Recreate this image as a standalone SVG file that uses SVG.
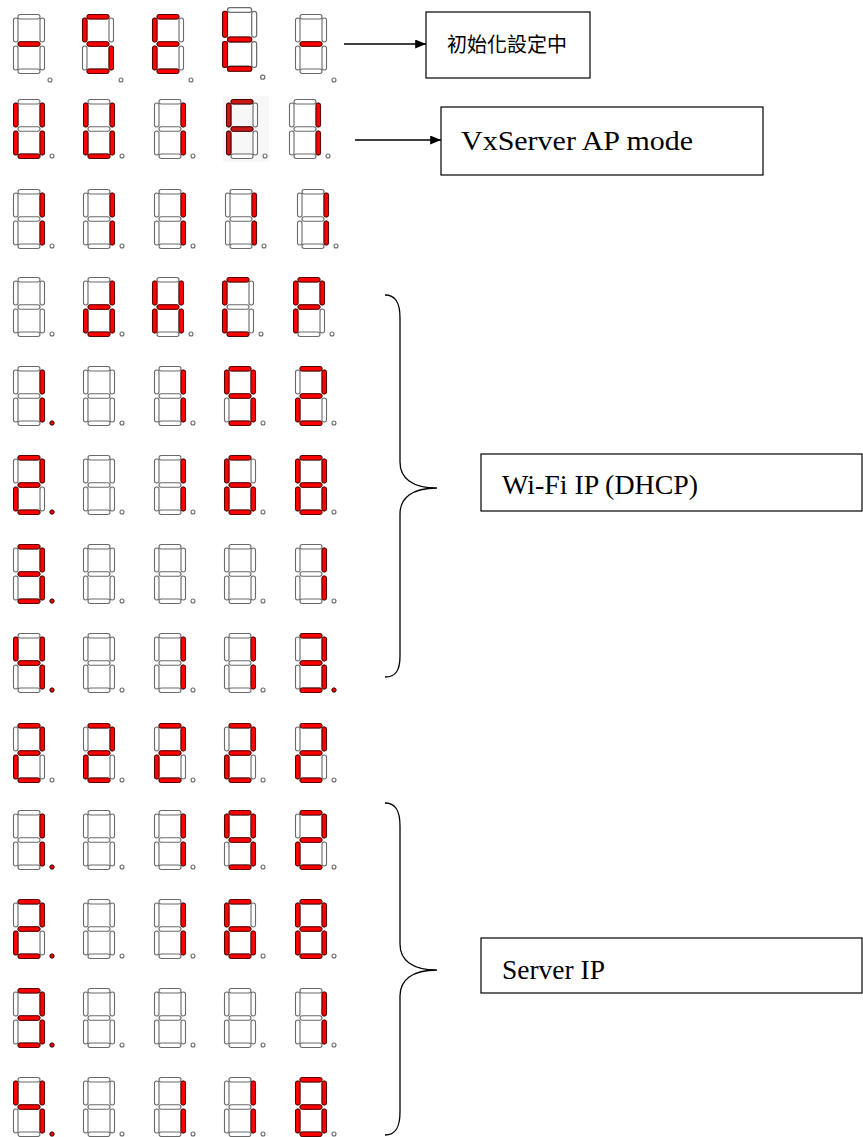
<svg xmlns="http://www.w3.org/2000/svg" width="863" height="1137" viewBox="0 0 863 1137">
<style>
.off{fill:#ffffff;stroke:#6a6a6a;stroke-width:1.1}
.on{fill:#ff0000;stroke:#5a0000;stroke-width:1}
.on2{fill:#c81818;stroke:#4a0000;stroke-width:1}
.box{fill:#ffffff;stroke:#000000;stroke-width:1.2}
.conn{fill:none;stroke:#000000;stroke-width:1.3}
.lat{font-family:"Liberation Serif","Times New Roman",serif;font-size:27px;fill:#000}
.cjk{font-family:"Noto Sans CJK TC","Noto Sans CJK JP",sans-serif;font-size:20px;fill:#000}
</style>
<defs>
<rect id="sa" x="5" y="0.5" width="22" height="4.5" rx="2.2"/>
<rect id="sg" x="5" y="27.8" width="22" height="4.5" rx="2.2"/>
<rect id="sd" x="5" y="55" width="22" height="4.5" rx="2.2"/>
<rect id="sf" x="0.5" y="4" width="4.5" height="24" rx="2.2"/>
<rect id="se" x="0.5" y="32" width="4.5" height="24" rx="2.2"/>
<rect id="sb" x="27" y="4" width="4.5" height="24" rx="2.2"/>
<rect id="sc" x="27" y="32" width="4.5" height="24" rx="2.2"/>
<circle id="dp" cx="39" cy="57" r="2"/>
<g id="base7" class="off"><use href="#sa"/><use href="#sb"/><use href="#sc"/><use href="#sd"/><use href="#se"/><use href="#sf"/><use href="#sg"/></g>
<g id="base"><use href="#base7"/><use href="#dp" class="off"/></g>
<marker id="arr" viewBox="0 0 12 10" refX="12" refY="5" markerWidth="12" markerHeight="9" markerUnits="userSpaceOnUse" orient="auto"><path d="M0,0 L12,5 L0,10 Z" fill="#000"/></marker>
</defs>

<g id="connectors">
<line class="conn" x1="344" y1="44" x2="426" y2="44" marker-end="url(#arr)"/>
<line class="conn" x1="355" y1="140" x2="441" y2="140" marker-end="url(#arr)"/>
<path class="conn" d="M385,295 C396,295 400,303 400,318 L400,462 C400,478 412,488 437,488 C412,488 400,498 400,514 L400,656 C400,670 396,677 385,677"/>
<path class="conn" d="M385,803 C396,803 400,811 400,826 L400,944 C400,960 412,970 437,970 C412,970 400,980 400,996 L400,1112 C400,1127 396,1135 385,1135"/>
</g>

<g id="label-init"><rect class="box" x="426" y="12" width="164" height="66"/><text class="cjk" x="447" y="52">初始化設定中</text></g>
<g id="label-ap"><rect class="box" x="441" y="107" width="322" height="68"/><text class="lat" x="461" y="150" textLength="232" lengthAdjust="spacingAndGlyphs">VxServer AP mode</text></g>
<g id="label-wifi"><rect class="box" x="481" y="454" width="381" height="57"/><text class="lat" x="502" y="494" textLength="196" lengthAdjust="spacingAndGlyphs">Wi-Fi IP (DHCP)</text></g>
<g id="label-server"><rect class="box" x="481" y="938" width="381" height="55"/><text class="lat" x="502" y="979" textLength="103" lengthAdjust="spacingAndGlyphs">Server IP</text></g>

<g id="row1">
<g transform="translate(13,14)"><use href="#base7"/><use href="#sg" class="on"/><circle class="off" cx="37" cy="66" r="2"/></g>
<g transform="translate(82,14)"><use href="#base7"/><use href="#sa" class="on"/><use href="#sf" class="on"/><use href="#sg" class="on"/><use href="#sc" class="on"/><use href="#sd" class="on"/><circle class="off" cx="39" cy="66" r="2"/></g>
<g transform="translate(152,14)"><use href="#base7"/><use href="#sa" class="on"/><use href="#sf" class="on"/><use href="#sg" class="on"/><use href="#se" class="on"/><use href="#sd" class="on"/><circle class="off" cx="39" cy="66" r="2"/></g>
<g transform="translate(222,7) scale(1.1,1.08)"><use href="#base7"/><use href="#sf" class="on"/><use href="#sg" class="on"/><use href="#se" class="on"/><use href="#sd" class="on"/><circle class="off" cx="37" cy="65" r="1.9"/></g>
<g transform="translate(295,14)"><use href="#base7"/><use href="#sg" class="on"/><circle class="off" cx="39" cy="66" r="2"/></g>
</g>

<g id="row2">
<g transform="translate(13,99)"><use href="#base"/><use href="#sf" class="on"/><use href="#sb" class="on"/><use href="#se" class="on"/><use href="#sc" class="on"/><use href="#sd" class="on"/></g>
<g transform="translate(83,99)"><use href="#base"/><use href="#sf" class="on"/><use href="#sb" class="on"/><use href="#se" class="on"/><use href="#sc" class="on"/><use href="#sd" class="on"/></g>
<g transform="translate(154,99)"><use href="#base"/><use href="#sb" class="on"/><use href="#sc" class="on"/></g>
<g transform="translate(226,99)"><rect x="-3" y="-3" width="46" height="66" fill="#f7f7f7"/><use href="#base"/><use href="#sa" class="on2"/><use href="#sf" class="on2"/><use href="#sg" class="on2"/><use href="#se" class="on2"/></g>
<g transform="translate(289,99)"><use href="#base"/><use href="#sb" class="on"/><use href="#sc" class="on"/></g>
</g>

<g id="row3">
<g transform="translate(13,189)"><use href="#base"/><use href="#sb" class="on"/><use href="#sc" class="on"/></g>
<g transform="translate(83,189)"><use href="#base"/><use href="#sb" class="on"/><use href="#sc" class="on"/></g>
<g transform="translate(154,189)"><use href="#base"/><use href="#sb" class="on"/><use href="#sc" class="on"/></g>
<g transform="translate(225,189)"><use href="#base"/><use href="#sb" class="on"/><use href="#sc" class="on"/></g>
<g transform="translate(297,189)"><use href="#base"/><use href="#sb" class="on"/><use href="#sc" class="on"/></g>
</g>

<g id="row4">
<g transform="translate(13,277)"><use href="#base"/></g>
<g transform="translate(83,277)"><use href="#base"/><use href="#sb" class="on"/><use href="#sg" class="on"/><use href="#se" class="on"/><use href="#sc" class="on"/><use href="#sd" class="on"/></g>
<g transform="translate(152,277)"><use href="#base"/><use href="#sf" class="on"/><use href="#sb" class="on"/><use href="#sg" class="on"/><use href="#se" class="on"/><use href="#sc" class="on"/></g>
<g transform="translate(222,277)"><use href="#base"/><use href="#sa" class="on"/><use href="#sf" class="on"/><use href="#se" class="on"/><use href="#sd" class="on"/></g>
<g transform="translate(293,277)"><use href="#base"/><use href="#sa" class="on"/><use href="#sf" class="on"/><use href="#sb" class="on"/><use href="#sg" class="on"/><use href="#se" class="on"/></g>
</g>

<g id="row5">
<g transform="translate(13,366)"><use href="#base"/><use href="#sb" class="on"/><use href="#sc" class="on"/><use href="#dp" class="on"/></g>
<g transform="translate(83,366)"><use href="#base"/></g>
<g transform="translate(154,366)"><use href="#base"/><use href="#sb" class="on"/><use href="#sc" class="on"/></g>
<g transform="translate(224,366)"><use href="#base"/><use href="#sa" class="on"/><use href="#sf" class="on"/><use href="#sb" class="on"/><use href="#sg" class="on"/><use href="#sc" class="on"/><use href="#sd" class="on"/></g>
<g transform="translate(295,366)"><use href="#base"/><use href="#sa" class="on"/><use href="#sb" class="on"/><use href="#sg" class="on"/><use href="#se" class="on"/><use href="#sd" class="on"/></g>
</g>

<g id="row6">
<g transform="translate(13,455)"><use href="#base"/><use href="#sa" class="on"/><use href="#sb" class="on"/><use href="#sg" class="on"/><use href="#se" class="on"/><use href="#sd" class="on"/><use href="#dp" class="on"/></g>
<g transform="translate(83,455)"><use href="#base"/></g>
<g transform="translate(154,455)"><use href="#base"/><use href="#sb" class="on"/><use href="#sc" class="on"/></g>
<g transform="translate(224,455)"><use href="#base"/><use href="#sa" class="on"/><use href="#sf" class="on"/><use href="#sg" class="on"/><use href="#se" class="on"/><use href="#sc" class="on"/><use href="#sd" class="on"/></g>
<g transform="translate(295,455)"><use href="#base"/><use href="#sa" class="on"/><use href="#sb" class="on"/><use href="#sc" class="on"/><use href="#sd" class="on"/><use href="#se" class="on"/><use href="#sf" class="on"/><use href="#sg" class="on"/></g>
</g>

<g id="row7">
<g transform="translate(13,544)"><use href="#base"/><use href="#sa" class="on"/><use href="#sb" class="on"/><use href="#sg" class="on"/><use href="#sc" class="on"/><use href="#sd" class="on"/><use href="#dp" class="on"/></g>
<g transform="translate(83,544)"><use href="#base"/></g>
<g transform="translate(154,544)"><use href="#base"/></g>
<g transform="translate(224,544)"><use href="#base"/></g>
<g transform="translate(295,544)"><use href="#base"/><use href="#sb" class="on"/><use href="#sc" class="on"/></g>
</g>

<g id="row8">
<g transform="translate(13,633)"><use href="#base"/><use href="#sf" class="on"/><use href="#sb" class="on"/><use href="#sg" class="on"/><use href="#sc" class="on"/><use href="#dp" class="on"/></g>
<g transform="translate(83,633)"><use href="#base"/></g>
<g transform="translate(154,633)"><use href="#base"/><use href="#sb" class="on"/><use href="#sc" class="on"/></g>
<g transform="translate(224,633)"><use href="#base"/><use href="#sb" class="on"/><use href="#sc" class="on"/></g>
<g transform="translate(295,633)"><use href="#base"/><use href="#sa" class="on"/><use href="#sb" class="on"/><use href="#sg" class="on"/><use href="#sc" class="on"/><use href="#sd" class="on"/><use href="#dp" class="on"/></g>
</g>

<g id="row9">
<g transform="translate(13,723)"><use href="#base"/><use href="#sa" class="on"/><use href="#sb" class="on"/><use href="#sg" class="on"/><use href="#se" class="on"/><use href="#sd" class="on"/></g>
<g transform="translate(83,723)"><use href="#base"/><use href="#sa" class="on"/><use href="#sb" class="on"/><use href="#sg" class="on"/><use href="#se" class="on"/><use href="#sd" class="on"/></g>
<g transform="translate(154,723)"><use href="#base"/><use href="#sa" class="on"/><use href="#sb" class="on"/><use href="#sg" class="on"/><use href="#se" class="on"/><use href="#sd" class="on"/></g>
<g transform="translate(224,723)"><use href="#base"/><use href="#sa" class="on"/><use href="#sb" class="on"/><use href="#sg" class="on"/><use href="#se" class="on"/><use href="#sd" class="on"/></g>
<g transform="translate(295,723)"><use href="#base"/><use href="#sa" class="on"/><use href="#sb" class="on"/><use href="#sg" class="on"/><use href="#se" class="on"/><use href="#sd" class="on"/></g>
</g>

<g id="row10">
<g transform="translate(13,810)"><use href="#base"/><use href="#sb" class="on"/><use href="#sc" class="on"/><use href="#dp" class="on"/></g>
<g transform="translate(83,810)"><use href="#base"/></g>
<g transform="translate(154,810)"><use href="#base"/><use href="#sb" class="on"/><use href="#sc" class="on"/></g>
<g transform="translate(224,810)"><use href="#base"/><use href="#sa" class="on"/><use href="#sf" class="on"/><use href="#sb" class="on"/><use href="#sg" class="on"/><use href="#sc" class="on"/><use href="#sd" class="on"/></g>
<g transform="translate(295,810)"><use href="#base"/><use href="#sa" class="on"/><use href="#sb" class="on"/><use href="#sg" class="on"/><use href="#se" class="on"/><use href="#sd" class="on"/></g>
</g>

<g id="row11">
<g transform="translate(13,899)"><use href="#base"/><use href="#sa" class="on"/><use href="#sb" class="on"/><use href="#sg" class="on"/><use href="#se" class="on"/><use href="#sd" class="on"/><use href="#dp" class="on"/></g>
<g transform="translate(83,899)"><use href="#base"/></g>
<g transform="translate(154,899)"><use href="#base"/><use href="#sb" class="on"/><use href="#sc" class="on"/></g>
<g transform="translate(224,899)"><use href="#base"/><use href="#sa" class="on"/><use href="#sf" class="on"/><use href="#sg" class="on"/><use href="#se" class="on"/><use href="#sc" class="on"/><use href="#sd" class="on"/></g>
<g transform="translate(295,899)"><use href="#base"/><use href="#sa" class="on"/><use href="#sb" class="on"/><use href="#sc" class="on"/><use href="#sd" class="on"/><use href="#se" class="on"/><use href="#sf" class="on"/><use href="#sg" class="on"/></g>
</g>

<g id="row12">
<g transform="translate(13,988)"><use href="#base"/><use href="#sa" class="on"/><use href="#sb" class="on"/><use href="#sg" class="on"/><use href="#sc" class="on"/><use href="#sd" class="on"/><use href="#dp" class="on"/></g>
<g transform="translate(83,988)"><use href="#base"/></g>
<g transform="translate(154,988)"><use href="#base"/></g>
<g transform="translate(224,988)"><use href="#base"/></g>
<g transform="translate(295,988)"><use href="#base"/><use href="#sb" class="on"/><use href="#sc" class="on"/></g>
</g>

<g id="row13">
<g transform="translate(13,1077)"><use href="#base"/><use href="#sf" class="on"/><use href="#sb" class="on"/><use href="#sg" class="on"/><use href="#sc" class="on"/><use href="#dp" class="on"/></g>
<g transform="translate(83,1077)"><use href="#base"/></g>
<g transform="translate(154,1077)"><use href="#base"/><use href="#sb" class="on"/><use href="#sc" class="on"/></g>
<g transform="translate(224,1077)"><use href="#base"/><use href="#sb" class="on"/><use href="#sc" class="on"/></g>
<g transform="translate(295,1077)"><use href="#base"/><use href="#sa" class="on"/><use href="#sb" class="on"/><use href="#sc" class="on"/><use href="#sd" class="on"/><use href="#se" class="on"/><use href="#sf" class="on"/><use href="#sg" class="on"/></g>
</g>
</svg>
